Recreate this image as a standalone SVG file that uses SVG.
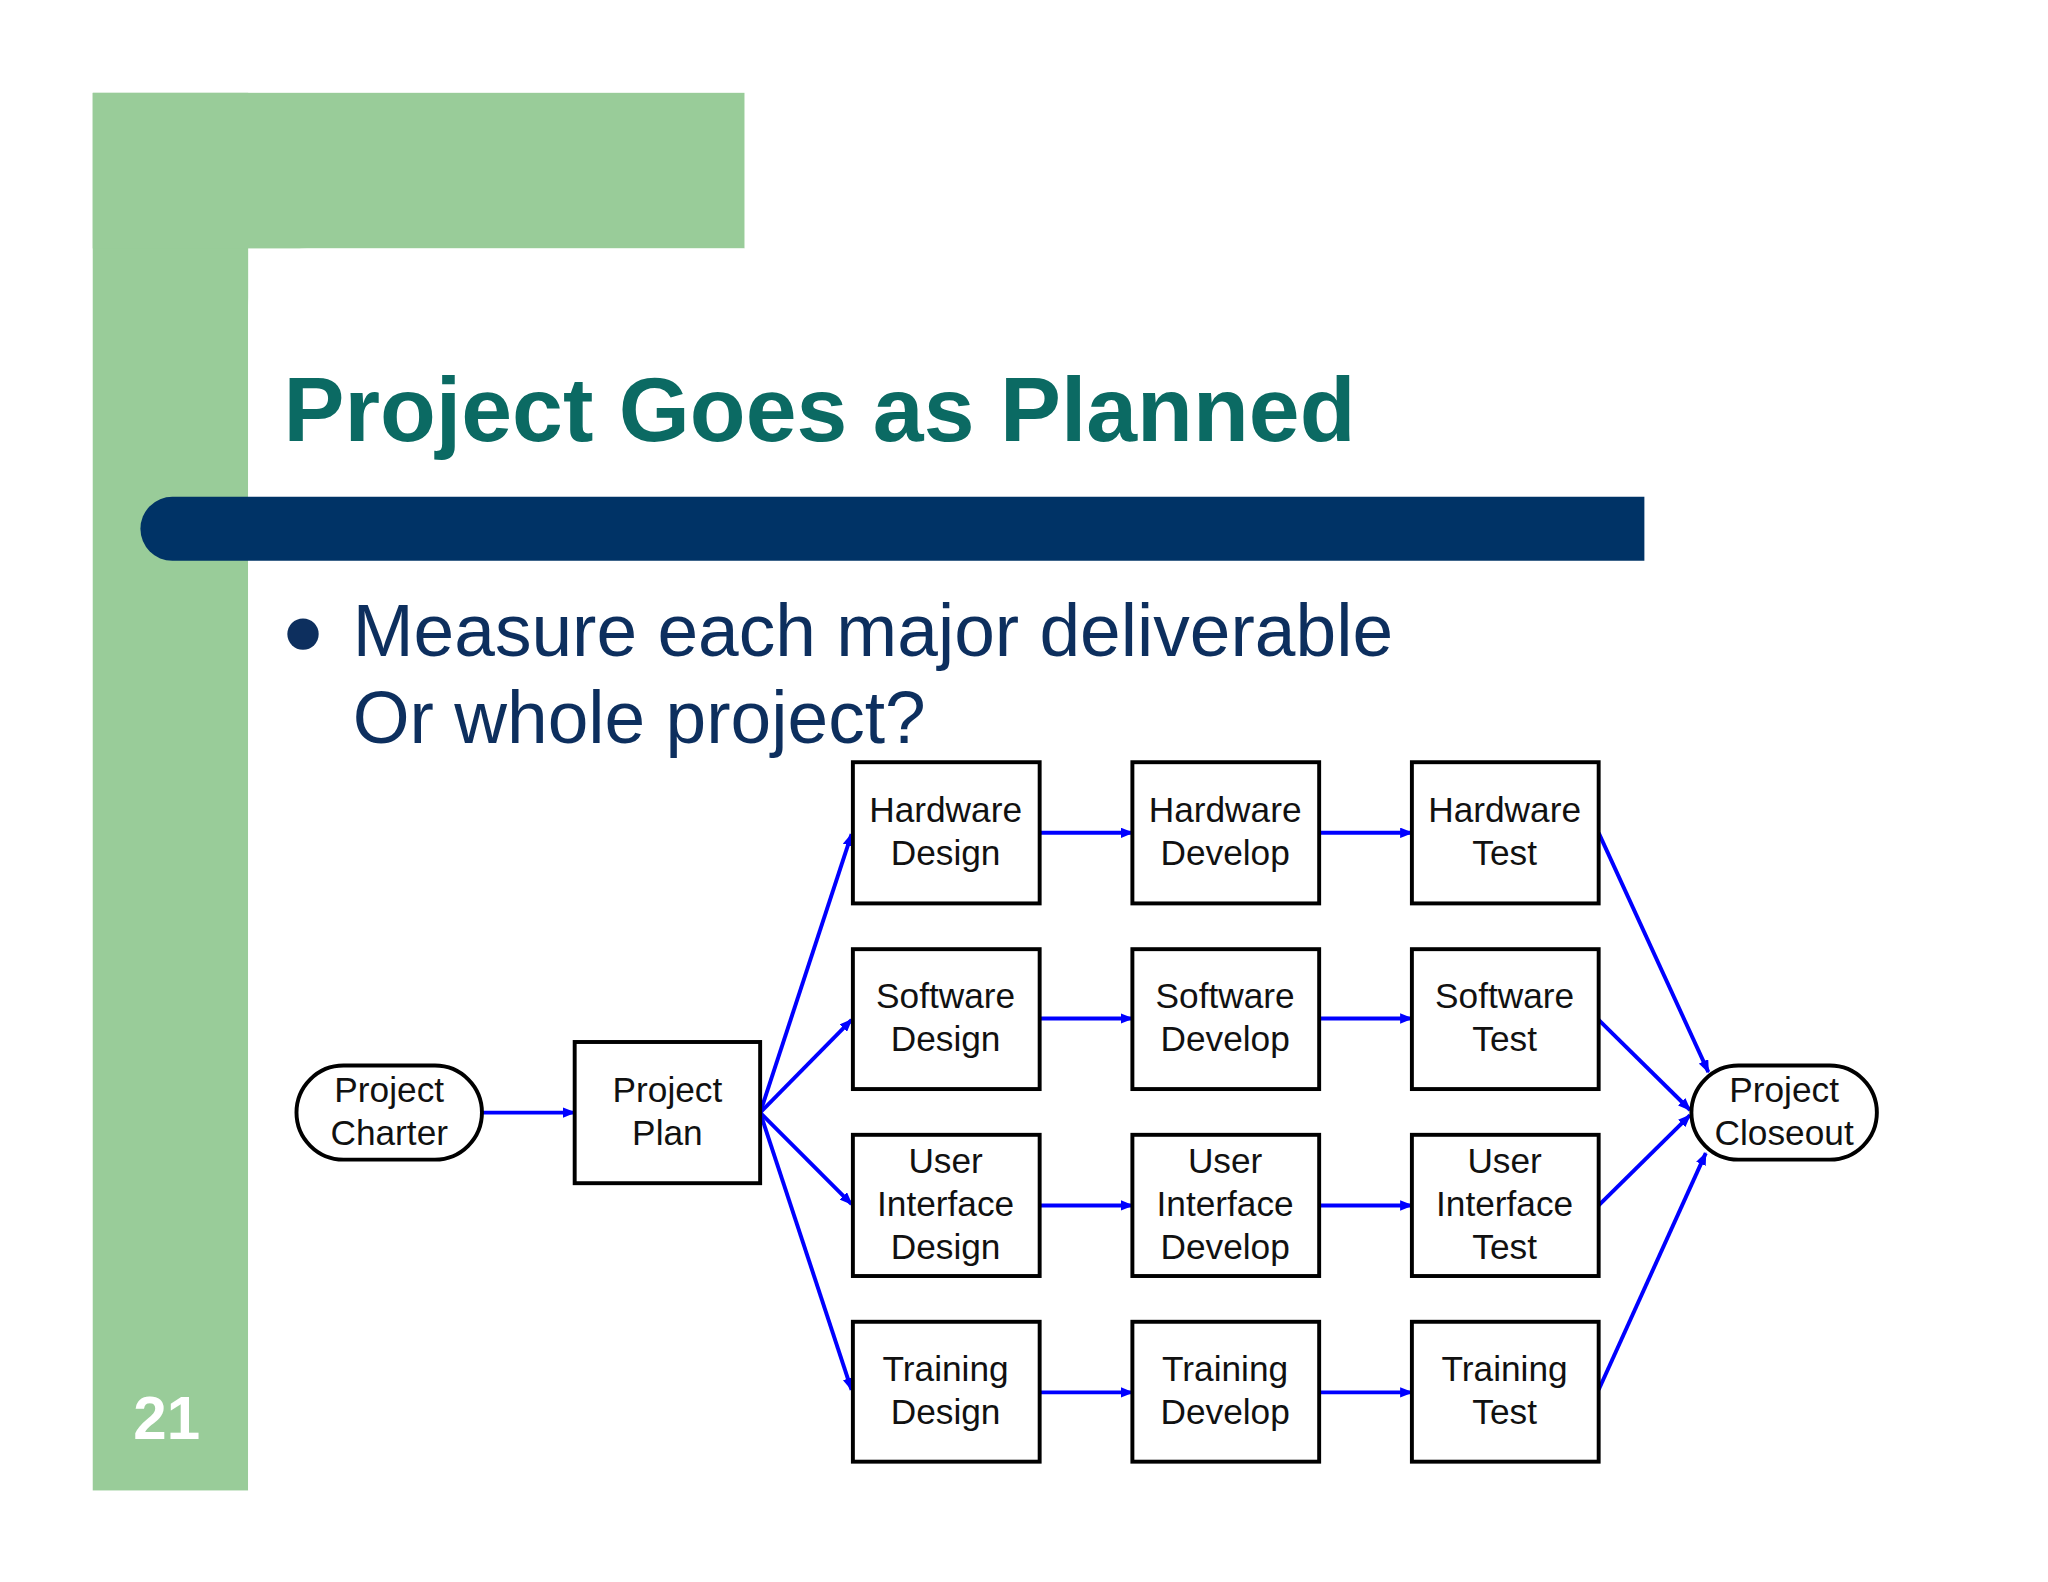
<svg xmlns="http://www.w3.org/2000/svg" width="2048" height="1582" viewBox="0 0 2048 1582">
<defs>
<marker id="ah" markerWidth="10" markerHeight="8" refX="9" refY="4" orient="auto" markerUnits="userSpaceOnUse"><path d="M0,0 L10,4 L0,8 Z" fill="#0000FF"/></marker>
<style>
.box{fill:#fff;stroke:#000;stroke-width:3}
.t{font-family:"Liberation Sans",Arial,sans-serif;font-size:27px;fill:#111;text-anchor:middle}
.c line{stroke:#0000FF;stroke-width:3;marker-end:url(#ah)}
</style>
</defs>
<rect width="2048" height="1582" fill="#fff"/>
<g transform="scale(1.3061,1.3074)">
<rect x="71" y="71" width="119" height="1069" fill="#99CC99"/>
<rect x="71" y="71" width="499" height="119" fill="#99CC99"/>
<path d="M190,1140 V235 A45,45 0 0 1 235,190 H570 V1140 Z" fill="#fff"/>
<text x="217" y="337" font-family="Liberation Sans,Arial,sans-serif" font-weight="bold" font-size="70" fill="#0B6A63">Project Goes as Planned</text>
<path d="M132,380 H1259 V429 H132 A24.5,24.5 0 0 1 132,380 Z" fill="#003366"/>
<circle cx="232" cy="485" r="12" fill="#0D2F5E"/>
<text x="270" y="502" font-family="Liberation Sans,Arial,sans-serif" font-size="56" fill="#0D2F5E">Measure each major deliverable</text>
<text x="270" y="568" font-family="Liberation Sans,Arial,sans-serif" font-size="56" fill="#0D2F5E">Or whole project?</text>
<text x="102" y="1101" font-family="Liberation Sans,Arial,sans-serif" font-weight="bold" font-size="46" fill="#fff">21</text>
<g class="c">
<line x1="369" y1="851" x2="440" y2="851"/>
<line x1="582" y1="851" x2="652" y2="638"/>
<line x1="582" y1="851" x2="652" y2="780"/>
<line x1="582" y1="851" x2="652" y2="921"/>
<line x1="582" y1="851" x2="652" y2="1063"/>
<line x1="796" y1="637" x2="867" y2="637"/><line x1="1010" y1="637" x2="1081" y2="637"/>
<line x1="796" y1="779" x2="867" y2="779"/><line x1="1010" y1="779" x2="1081" y2="779"/>
<line x1="796" y1="922" x2="867" y2="922"/><line x1="1010" y1="922" x2="1081" y2="922"/>
<line x1="796" y1="1065" x2="867" y2="1065"/><line x1="1010" y1="1065" x2="1081" y2="1065"/>
<line x1="1224" y1="637" x2="1308" y2="820"/>
<line x1="1224" y1="780" x2="1294" y2="849"/>
<line x1="1224" y1="922" x2="1294" y2="853"/>
<line x1="1224" y1="1063" x2="1306" y2="882"/>
</g>
<g id="charter"><rect class="box" x="227" y="815" width="142" height="72" rx="36"/><text class="t" x="298" y="843">Project</text><text class="t" x="298" y="876">Charter</text></g>
<g id="plan"><rect class="box" x="440" y="797" width="142" height="108"/><text class="t" x="511" y="843">Project</text><text class="t" x="511" y="876">Plan</text></g>
<g id="closeout"><rect class="box" x="1295" y="815" width="142" height="72" rx="36"/><text class="t" x="1366" y="843">Project</text><text class="t" x="1366" y="876">Closeout</text></g>
<g id="hwd"><rect class="box" x="653" y="583" width="143" height="108"/><text class="t" x="724" y="629">Hardware</text><text class="t" x="724" y="662">Design</text></g>
<g id="hwdev"><rect class="box" x="867" y="583" width="143" height="108"/><text class="t" x="938" y="629">Hardware</text><text class="t" x="938" y="662">Develop</text></g>
<g id="hwt"><rect class="box" x="1081" y="583" width="143" height="108"/><text class="t" x="1152" y="629">Hardware</text><text class="t" x="1152" y="662">Test</text></g>
<g id="swd"><rect class="box" x="653" y="726" width="143" height="107"/><text class="t" x="724" y="771">Software</text><text class="t" x="724" y="804">Design</text></g>
<g id="swdev"><rect class="box" x="867" y="726" width="143" height="107"/><text class="t" x="938" y="771">Software</text><text class="t" x="938" y="804">Develop</text></g>
<g id="swt"><rect class="box" x="1081" y="726" width="143" height="107"/><text class="t" x="1152" y="771">Software</text><text class="t" x="1152" y="804">Test</text></g>
<g id="uid"><rect class="box" x="653" y="868" width="143" height="108"/><text class="t" x="724" y="897">User</text><text class="t" x="724" y="930">Interface</text><text class="t" x="724" y="963">Design</text></g>
<g id="uidev"><rect class="box" x="867" y="868" width="143" height="108"/><text class="t" x="938" y="897">User</text><text class="t" x="938" y="930">Interface</text><text class="t" x="938" y="963">Develop</text></g>
<g id="uit"><rect class="box" x="1081" y="868" width="143" height="108"/><text class="t" x="1152" y="897">User</text><text class="t" x="1152" y="930">Interface</text><text class="t" x="1152" y="963">Test</text></g>
<g id="trd"><rect class="box" x="653" y="1011" width="143" height="107"/><text class="t" x="724" y="1056">Training</text><text class="t" x="724" y="1089">Design</text></g>
<g id="trdev"><rect class="box" x="867" y="1011" width="143" height="107"/><text class="t" x="938" y="1056">Training</text><text class="t" x="938" y="1089">Develop</text></g>
<g id="trt"><rect class="box" x="1081" y="1011" width="143" height="107"/><text class="t" x="1152" y="1056">Training</text><text class="t" x="1152" y="1089">Test</text></g>
</g>
</svg>
